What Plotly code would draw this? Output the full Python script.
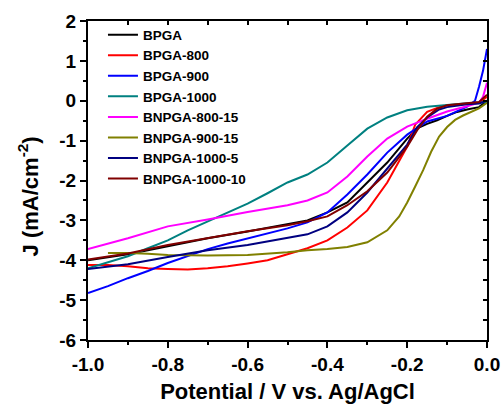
import plotly.graph_objects as go

names = ["BPGA", "BPGA-800", "BPGA-900", "BPGA-1000",
         "BNPGA-800-15", "BNPGA-900-15", "BNPGA-1000-5", "BNPGA-1000-10"]
colors = ["#000000", "#FF0000", "#0000FF", "#008080",
          "#FF00FF", "#808000", "#000080", "#800000"]

bpga_x = [-1.0, -0.9, -0.85, -0.8, -0.7, -0.6, -0.5, -0.45, -0.4, -0.35, -0.3, -0.25, -0.2, -0.175, -0.15, -0.125, -0.1, -0.075, -0.05, -0.02, 0.0]
bpga_y = [-4.0, -3.85, -3.75, -3.65, -3.45, -3.28, -3.1, -3.0, -2.8, -2.55, -2.05, -1.55, -0.95, -0.69, -0.58, -0.49, -0.38, -0.28, -0.22, -0.16, 0.0]

b800_x = [-1.0, -0.95, -0.9, -0.85, -0.8, -0.75, -0.7, -0.65, -0.6, -0.55, -0.5, -0.45, -0.4, -0.35, -0.3, -0.25, -0.2, -0.18, -0.15, -0.12, -0.1, -0.05, -0.02, 0.0]
b800_y = [-4.12, -4.12, -4.15, -4.2, -4.22, -4.23, -4.2, -4.15, -4.08, -4.0, -3.85, -3.7, -3.5, -3.18, -2.75, -2.05, -1.15, -0.6, -0.28, -0.16, -0.12, -0.08, -0.05, 0.1]

b900_x = [-1.0, -0.95, -0.9, -0.85, -0.8, -0.75, -0.7, -0.65, -0.6, -0.55, -0.5, -0.45, -0.4, -0.35, -0.3, -0.25, -0.2, -0.15, -0.1, -0.05, -0.03, -0.02, -0.01, 0.0]
b900_y = [-4.82, -4.65, -4.45, -4.27, -4.07, -3.9, -3.72, -3.58, -3.45, -3.33, -3.2, -3.05, -2.8, -2.35, -1.85, -1.3, -0.85, -0.52, -0.38, -0.15, 0.0, 0.35, 0.75, 1.3]

b1000_x = [-1.0, -0.95, -0.9, -0.85, -0.8, -0.75, -0.7, -0.65, -0.6, -0.55, -0.5, -0.45, -0.4, -0.35, -0.3, -0.25, -0.2, -0.15, -0.1, -0.05, 0.0]
b1000_y = [-4.2, -4.05, -3.9, -3.7, -3.5, -3.25, -3.02, -2.8, -2.58, -2.32, -2.05, -1.85, -1.55, -1.12, -0.7, -0.42, -0.24, -0.15, -0.1, -0.06, -0.03]

n800_x = [-1.0, -0.9, -0.8, -0.7, -0.6, -0.5, -0.45, -0.4, -0.35, -0.3, -0.25, -0.2, -0.15, -0.1, -0.05, -0.02, -0.01, 0.0]
n800_y = [-3.72, -3.45, -3.15, -2.98, -2.79, -2.62, -2.5, -2.3, -1.9, -1.4, -0.95, -0.65, -0.45, -0.27, -0.14, -0.05, 0.1, 0.45]

n900_x = [-0.95, -0.9, -0.85, -0.8, -0.7, -0.6, -0.5, -0.45, -0.4, -0.35, -0.3, -0.25, -0.22, -0.2, -0.18, -0.16, -0.14, -0.12, -0.1, -0.08, -0.06, -0.04, -0.02, 0.0]
n900_y = [-3.82, -3.82, -3.84, -3.87, -3.88, -3.87, -3.8, -3.75, -3.72, -3.67, -3.55, -3.25, -2.9, -2.55, -2.15, -1.74, -1.28, -0.9, -0.66, -0.48, -0.37, -0.27, -0.19, -0.05]

n1000_5_x = [-1.0, -0.9, -0.8, -0.7, -0.6, -0.5, -0.45, -0.4, -0.35, -0.3, -0.25, -0.2, -0.175, -0.15, -0.12, -0.1, -0.05, -0.02, 0.0]
n1000_5_y = [-4.22, -4.1, -3.92, -3.75, -3.62, -3.45, -3.35, -3.15, -2.8, -2.3, -1.7, -1.1, -0.66, -0.42, -0.22, -0.16, -0.09, -0.07, 0.0]

n1000_10_x = [-1.0, -0.9, -0.8, -0.7, -0.6, -0.5, -0.45, -0.4, -0.35, -0.3, -0.25, -0.2, -0.175, -0.15, -0.125, -0.1, -0.05, -0.02, 0.0]
n1000_10_y = [-3.98, -3.83, -3.62, -3.45, -3.27, -3.12, -3.02, -2.9, -2.62, -2.27, -1.8, -1.15, -0.74, -0.4, -0.2, -0.11, -0.05, -0.03, 0.15]

series_x = [bpga_x, b800_x, b900_x, b1000_x, n800_x, n900_x, n1000_5_x, n1000_10_x]
series_y = [bpga_y, b800_y, b900_y, b1000_y, n800_y, n900_y, n1000_5_y, n1000_10_y]

x_tickvals = [-1.0, -0.8, -0.6, -0.4, -0.2, 0.0]
x_ticktext = ["-1.0", "-0.8", "-0.6", "-0.4", "-0.2", "0.0"]
y_tickvals = [-6, -5, -4, -3, -2, -1, 0, 1, 2]
y_ticktext = ["-6", "-5", "-4", "-3", "-2", "-1", "0", "1", "2"]

x_title = "Potential / V vs. Ag/AgCl"
y_title = "J (mA/cm<sup>-2</sup>)"

FONT = "Liberation Sans, Arial, sans-serif"

fig = go.Figure()
for nm, c, xs, ys in zip(names, colors, series_x, series_y):
    fig.add_trace(go.Scatter(x=xs, y=ys, mode="lines", name=nm,
                             line=dict(color=c, width=2)))

# empty trace to activate mirror axes (top / right, ticks inside)
fig.add_trace(go.Scatter(x=[], y=[], xaxis="x2", yaxis="y2", showlegend=False,
                         hoverinfo="skip"))

fig.update_layout(
    width=504, height=410,
    margin=dict(l=88, r=17, t=21, b=70),
    paper_bgcolor="white", plot_bgcolor="white",
    font=dict(family=FONT, color="black"),
    showlegend=True,
    legend=dict(x=0.0375, y=1.005, xanchor="left", yanchor="top",
                bgcolor="rgba(0,0,0,0)", borderwidth=0,
                font=dict(family=FONT, size=13.5, weight="bold"),
                tracegroupgap=0, itemwidth=30),
    xaxis=dict(range=[-1.0, 0.0], showgrid=False, zeroline=False, automargin=False,
               showline=True, linecolor="black", linewidth=2, mirror=True,
               ticks="outside", ticklen=6, tickwidth=2, tickcolor="black",
               tickvals=x_tickvals, ticktext=x_ticktext,
               tickfont=dict(family=FONT, size=19, weight="bold"),
               minor=dict(dtick=0.1, ticks="outside", ticklen=3, tickwidth=2, tickcolor="black"),
               title=dict(text=x_title,
                          font=dict(family=FONT, size=22, weight="bold"), standoff=10)),
    yaxis=dict(range=[-6, 2], showgrid=False, zeroline=False, automargin=False,
               showline=True, linecolor="black", linewidth=2, mirror=True,
               ticks="outside", ticklen=6, tickwidth=2, tickcolor="black",
               tickvals=y_tickvals, ticktext=y_ticktext,
               tickfont=dict(family=FONT, size=19, weight="bold"),
               minor=dict(dtick=0.5, tick0=0, ticks="outside", ticklen=3, tickwidth=2, tickcolor="black")),
    xaxis2=dict(range=[-1.0, 0.0], overlaying="x", side="top", anchor="y", automargin=False,
                showgrid=False, zeroline=False, showline=False,
                ticks="inside", ticklen=4, tickwidth=1.5, tickcolor="black",
                dtick=0.1, tick0=0, showticklabels=False),
    yaxis2=dict(range=[-6, 2], overlaying="y", side="right", anchor="x", automargin=False,
                showgrid=False, zeroline=False, showline=False,
                ticks="inside", ticklen=4, tickwidth=1.5, tickcolor="black",
                dtick=0.5, tick0=0, showticklabels=False),
    annotations=[dict(text=y_title, textangle=-90, xref="paper", yref="paper",
                      x=-0.148, y=0.45, xanchor="center", yanchor="middle",
                      showarrow=False,
                      font=dict(family=FONT, size=22, weight="bold", color="black"))],
)

fig.write_html("out.html", config={"displayModeBar": False},
               post_script="document.body.style.margin='0';document.body.style.overflow='hidden';")
